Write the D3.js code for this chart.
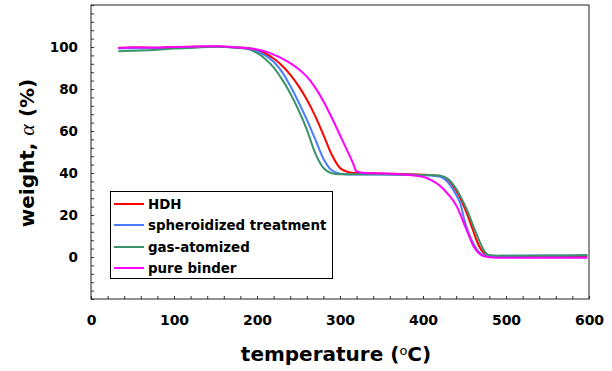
<!DOCTYPE html>
<html><head><meta charset="utf-8">
<script src="https://cdn.jsdelivr.net/npm/d3@7"></script>
<style>body{margin:0;background:#fff}svg{display:block}text{font-family:"DejaVu Sans",Verdana,sans-serif;font-weight:bold}</style>
</head><body><svg id="c" width="612" height="371"></svg>
<script>
const temps = [33,50,75,100,125,150,175,190,200,210,220,230,240,250,260,270,280,290,300,310,315,320,330,350,375,400,410,420,430,440,445,450,455,460,465,470,475,480,490,500,550,598];
const hdh = [99.6,99.8,99.7,99.9,100.1,100.2,99.8,99.4,98.5,96.9,94.5,91.2,86.9,81.5,75,67.2,58.2,48.8,42.4,40.4,40.1,40,39.9,39.8,39.5,39.2,39.0,38.6,36.8,31.5,28,23.5,18.5,13,7.5,3.5,1.5,0.7,0.4,0.4,0.4,0.5];
const spheroidized = [99.3,99.4,99.5,99.8,100,100.2,99.7,99.2,98,96,93,88.3,81.5,73.8,65.4,56.2,46.8,41.3,39.7,39.3,39.3,39.3,39.3,39.3,39.2,39.0,38.8,38.3,35.5,29.5,25.5,17.5,11.5,7,3.5,1.5,0.7,0.5,0.5,0.6,0.7,0.8];
const gasAtomized = [98.0,98.2,98.6,99.3,99.7,100.1,99.6,98.9,97.2,94.3,90.3,84.7,78,70,60.7,49.6,42.4,39.9,39.4,39.4,39.4,39.4,39.4,39.4,39.2,39.1,39.0,38.8,37.2,32.5,29,25,20.5,15.3,10.5,5.7,2.2,0.8,0.6,0.6,0.7,0.8];
const pureBinder = [99.5,99.8,99.7,100,100.2,100.3,99.8,99.3,98.8,97.9,96.4,94.6,92.3,89.5,85.9,80.8,74.2,66.4,58,49.6,45.3,40.8,40.0,39.8,39.3,38.2,36.6,34.0,30.0,24.6,20.3,15.3,10.5,5.8,2.8,1.0,0.2,-0.1,-0.3,-0.3,-0.3,-0.3];
const seriesNames = ["HDH","spheroidized treatment","gas-atomized","pure binder"];
const seriesColors = ["#ff0000","#4a7cff","#3a9467","#ff00ff"];
const xTicks = [0,100,200,300,400,500,600];
const yTicks = [0,20,40,60,80,100];

const svg = d3.select("#c");
const m = {l:91, r:589, t:5, b:299};
const x = d3.scaleLinear().domain([0,600]).range([m.l,m.r]);
const y = d3.scaleLinear().domain([-20,120]).range([m.b,m.t]);

svg.append("rect").attr("width",612).attr("height",371).attr("fill","#fff");

// minor ticks inside
const xg = svg.append("g").attr("transform",`translate(0,${m.b})`)
  .call(d3.axisBottom(x).tickValues(d3.range(0,601,20)).tickSize(-3).tickFormat(""));
xg.select(".domain").remove();
xg.selectAll("line").attr("stroke","#333");
const yg = svg.append("g").attr("transform",`translate(${m.l},0)`)
  .call(d3.axisLeft(y).tickValues(d3.range(-20,121,4)).tickSize(-3).tickFormat(""));
yg.select(".domain").remove();
yg.selectAll("line").attr("stroke","#333");

// labels
const xl = svg.append("g").attr("transform",`translate(0,${m.b})`)
  .call(d3.axisBottom(x).tickValues(xTicks).tickSize(0).tickPadding(16).tickFormat(d3.format("d")));
xl.select(".domain").remove();
xl.selectAll("text").attr("font-size",14).attr("fill","#000").attr("font-family","DejaVu Sans").attr("font-weight","bold");
const yl = svg.append("g").attr("transform",`translate(${m.l},0)`)
  .call(d3.axisLeft(y).tickValues(yTicks).tickSize(0).tickPadding(13).tickFormat(d3.format("d")));
yl.select(".domain").remove();
yl.selectAll("text").attr("font-size",13.5).attr("fill","#000").attr("font-family","DejaVu Sans").attr("font-weight","bold");

// lines
const allSeries = [hdh,spheroidized,gasAtomized,pureBinder];
const line = d3.line().x((d,i)=>x(temps[i])).y(d=>y(d)).curve(d3.curveMonotoneX);
allSeries.forEach((s,k)=>{
  svg.append("path").datum(s).attr("d",line).attr("fill","none")
    .attr("stroke",seriesColors[k]).attr("stroke-width",2);
});

// frame
svg.append("rect").attr("x",m.l).attr("y",m.t).attr("width",m.r-m.l).attr("height",m.b-m.t)
  .attr("fill","none").attr("stroke","#222").attr("stroke-width",1);

// legend
const lg = svg.append("g");
lg.append("rect").attr("x",110.5).attr("y",191.5).attr("width",222).attr("height",87)
  .attr("fill","#fff").attr("stroke","#000").attr("stroke-width",1);
const ly = [204,225,247,268];
seriesNames.forEach((n,k)=>{
  lg.append("line").attr("x1",114).attr("x2",144).attr("y1",ly[k]).attr("y2",ly[k])
    .attr("stroke",seriesColors[k]).attr("stroke-width",2);
  lg.append("text").attr("x",148).attr("y",ly[k]+5).attr("font-size",13.4).text(n);
});

// axis titles
const yt = svg.append("text").attr("transform","translate(34,153) rotate(-90)")
  .attr("text-anchor","middle").attr("font-size",20);
yt.append("tspan").text("weight, ");
yt.append("tspan").attr("font-family","Liberation Serif, serif").attr("font-style","italic").attr("font-weight","normal").attr("font-size",22).text("α");
yt.append("tspan").text(" (%)");

const xt = svg.append("text").attr("x",336).attr("y",361).attr("text-anchor","middle").attr("font-size",20);
xt.append("tspan").text("temperature (");
xt.append("tspan").attr("font-size",13).attr("font-weight","normal").attr("dy",-6).text("o");
xt.append("tspan").attr("dy",6).text("C)");
</script></body></html>
